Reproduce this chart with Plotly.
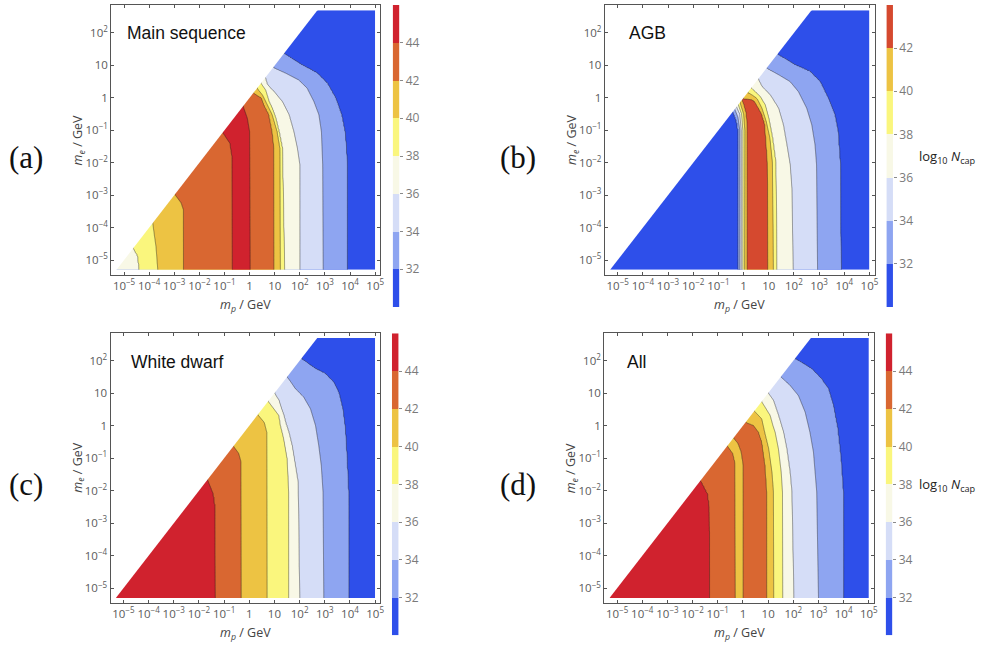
import numpy as np
import plotly.graph_objects as go

# ---------------------------------------------------------------
# Data extent (log10 of mass in GeV); only m_e <= m_p is physical
# ---------------------------------------------------------------
LOG_MP_MIN, LOG_MP_MAX = -5.3, 5.0
LOG_ME_MIN, LOG_ME_MAX = -5.3, 2.7
X_RANGE = [-5.51, 5.21]
Y_RANGE = [-5.46, 2.86]

# band colours, low -> high log10 N_cap
BLUE = "#2E4FEA"
MEDBLUE = "#8EA5F1"
LIGHTBLUE = "#D5DDF7"
CREAM = "#F8F8E6"
YELLOW = "#FAF67D"
GOLD = "#EDC343"
ORANGE = "#D96731"
RED = "#D0222E"
REDORANGE = "#D5492F"

# Each panel: contour boundaries ordered from small to large m_p.
# levels[i] is the log10 N_cap value on boundary i; knots are
# (log10 m_e, log10 m_p) points along it.  None marks a crest/trough
# lying midway between its two neighbours.

# --- Main sequence ---
ms_levels = [38, 40, 42, 44, 45, 44, 42, 40, 38, 36, 34, 32]
ms_edges = (37, 31)
ms_knots = [
    [(-5.3, -4.39), (-4.88, -4.45), (-4.63, -4.63)],
    [(-5.3, -3.66), (-4.58, -3.73), (-4.2, -3.80), (-3.86, -3.86)],
    [(-5.3, -2.64), (-3.45, -2.64), (-3.24, -2.73), (-2.98, -2.98)],
    [(-5.3, -0.68), (-1.8, -0.70), (-1.4, -0.78), (-1.07, -1.07)],
    None,
    [(-5.3, 0.02), (-1.04, 0.0), (-0.63, -0.09), (-0.30, -0.24), (-0.25, -0.25)],
    [(-5.3, 0.98), (-1.55, 0.97), (-1.04, 0.90), (-0.52, 0.77), (-0.22, 0.57),
     (-0.01, 0.48), (0.10, 0.25), (0.15, 0.15)],
    [(-5.3, 1.23), (-1.55, 1.21), (-1.04, 1.10), (-0.52, 0.90), (-0.22, 0.71),
     (0.09, 0.51), (0.24, 0.35), (0.30, 0.30)],
    [(-5.3, 1.39), (-1.55, 1.30), (-1.04, 1.17), (-0.63, 1.04), (-0.32, 0.90),
     (-0.11, 0.77), (0.24, 0.64), (0.45, 0.45)],
    [(-5.3, 2.0), (-2.06, 2.0), (-1.55, 1.90), (-1.04, 1.76), (-0.52, 1.57),
     (-0.11, 1.30), (0.19, 0.97), (0.40, 0.71), (0.62, 0.62)],
    [(-5.3, 2.93), (-2.06, 2.91), (-1.04, 2.86), (-0.52, 2.76), (-0.11, 2.56),
     (0.30, 2.29), (0.55, 1.96), (0.76, 1.43), (0.93, 0.93)],
    [(-5.3, 3.88), (-2.06, 3.88), (-1.55, 3.85), (-1.04, 3.79), (-0.52, 3.66),
     (0.0, 3.42), (0.45, 3.09), (0.76, 2.69), (1.01, 2.09), (1.36, 1.36)],
]

# --- AGB ---
agb_levels = [32, 34, 36, 38, 40, 42, 43, 42, 40, 38, 36, 34, 32]
agb_edges = (31, 31)
agb_knots = [
    [(-5.3, -0.21), (-1.0, -0.21), (-0.7, -0.28), (-0.42, -0.42)],
    [(-5.3, -0.15), (-1.0, -0.15), (-0.6, -0.22), (-0.35, -0.35)],
    [(-5.3, -0.09), (-1.0, -0.09), (-0.5, -0.15), (-0.28, -0.28)],
    [(-5.3, -0.03), (-1.0, -0.03), (-0.5, -0.08), (-0.21, -0.21)],
    [(-5.3, 0.04), (-1.0, 0.05), (-0.5, 0.0), (-0.25, -0.10), (-0.14, -0.14)],
    [(-5.3, 0.13), (-1.0, 0.14), (-0.5, 0.10), (-0.2, 0.0), (-0.07, -0.07)],
    None,
    [(-5.3, 0.97), (-2.0, 0.95), (-1.2, 0.88), (-0.8, 0.84), (-0.5, 0.72),
     (-0.3, 0.58), (-0.12, 0.44), (-0.07, 0.40), (-0.03, -0.03)],
    [(-5.3, 1.19), (-2.0, 1.15), (-1.24, 1.05), (-0.73, 0.90), (-0.32, 0.73),
     (-0.01, 0.53), (0.10, 0.32), (0.16, 0.16)],
    [(-5.3, 1.32), (-2.0, 1.28), (-1.24, 1.15), (-0.63, 1.0), (-0.22, 0.86),
     (0.04, 0.66), (0.2, 0.45), (0.30, 0.30)],
    [(-5.3, 1.97), (-2.8, 1.92), (-2.06, 1.85), (-1.45, 1.72), (-0.83, 1.58),
     (-0.32, 1.39), (0.09, 1.06), (0.35, 0.73), (0.58, 0.58)],
    [(-5.3, 2.94), (-2.06, 2.90), (-1.45, 2.84), (-0.83, 2.71), (-0.32, 2.51),
     (0.19, 2.18), (0.50, 1.85), (0.71, 1.39), (0.91, 0.91)],
    [(-5.3, 3.87), (-2.06, 3.84), (-1.04, 3.75), (-0.52, 3.62), (-0.01, 3.36),
     (0.50, 3.04), (0.81, 2.64), (1.01, 2.05), (1.34, 1.34)],
]

# --- White dwarf ---
wd_levels = [44, 42, 40, 38, 36, 34, 32]
wd_edges = (45, 31)
wd_knots = [
    [(-5.3, -1.33), (-2.5, -1.35), (-2.1, -1.42), (-1.65, -1.65)],
    [(-5.3, -0.32), (-1.1, -0.33), (-0.85, -0.42), (-0.63, -0.63)],
    [(-5.3, 0.71), (-0.2, 0.70), (0.1, 0.60), (0.34, 0.34)],
    [(-5.3, 1.57), (-2.04, 1.57), (-1.02, 1.51), (-0.40, 1.37), (0.01, 1.24),
     (0.32, 1.18), (0.52, 0.98), (0.75, 0.75)],
    [(-5.3, 2.0), (-1.74, 1.94), (-1.22, 1.83), (-0.61, 1.70), (-0.20, 1.57),
     (0.11, 1.44), (0.32, 1.37), (0.62, 1.24), (0.78, 1.18), (1.0, 1.0)],
    [(-5.3, 2.96), (-2.04, 2.93), (-1.22, 2.86), (-0.61, 2.76), (0.01, 2.63),
     (0.52, 2.43), (0.88, 2.16), (1.14, 1.83), (1.50, 1.50)],
    [(-5.3, 3.94), (-2.04, 3.94), (-1.02, 3.88), (-0.09, 3.81), (0.52, 3.71),
     (1.03, 3.55), (1.34, 3.35), (1.60, 3.02), (1.75, 2.63), (2.06, 2.06)],
]

# --- All ---
all_levels = [44, 42, 41, 42, 43, 42, 40, 38, 36, 34, 32]
all_edges = (45, 31)
all_knots = [
    [(-5.3, -1.32), (-2.5, -1.33), (-2.1, -1.40), (-1.68, -1.68)],
    [(-5.3, -0.30), (-1.16, -0.31), (-0.85, -0.40), (-0.62, -0.62)],
    None,
    [(-5.3, 0.0), (-1.2, 0.0), (-0.8, -0.08), (-0.55, -0.20), (-0.38, -0.38)],
    None,
    [(-5.3, 0.95), (-2.04, 0.95), (-1.22, 0.88), (-0.50, 0.75), (-0.20, 0.62),
     (0.01, 0.42), (0.10, 0.10)],
    [(-5.3, 1.22), (-2.04, 1.21), (-1.43, 1.15), (-0.71, 1.02), (-0.20, 0.86),
     (0.21, 0.75), (0.45, 0.45)],
    [(-5.3, 1.58), (-2.04, 1.57), (-1.43, 1.52), (-0.71, 1.41), (-0.20, 1.28),
     (0.01, 1.19), (0.32, 1.08), (0.57, 0.88), (0.74, 0.74)],
    [(-5.3, 2.02), (-2.04, 1.94), (-1.43, 1.87), (-0.71, 1.74), (-0.20, 1.61),
     (0.32, 1.41), (0.78, 1.21), (1.0, 1.0)],
    [(-5.3, 3.0), (-2.04, 2.93), (-0.81, 2.80), (-0.20, 2.66), (0.42, 2.47),
     (0.93, 2.20), (1.24, 1.87), (1.50, 1.50)],
    [(-5.3, 3.98), (-2.04, 3.98), (-1.02, 3.89), (-0.09, 3.76), (0.62, 3.59),
     (1.14, 3.39), (1.44, 3.12), (1.75, 2.73), (2.06, 2.06)],
]

X_TICKS = list(range(-5, 6))
Y_TICKS = list(range(-5, 3))


def power_label(e):
    if e == 0:
        return "1"
    if e == 1:
        return "10"
    return "10<sup>" + str(e).replace("-", "\u2212") + "</sup>"


def build_field(levels, knots, edges, gx, gy):
    """Piecewise-linear log10 N_cap on the grid, row by row."""
    z = np.empty((gy.size, gx.size))
    for j, y in enumerate(gy):
        xs = np.array([np.nan if k is None else
                       np.interp(y, [p[0] for p in k], [p[1] for p in k])
                       for k in knots])
        for i in np.where(np.isnan(xs))[0]:
            xs[i] = 0.5 * (xs[i - 1] + xs[i + 1])
        xs = np.maximum.accumulate(xs) + np.arange(xs.size) * 1e-6
        bx = np.concatenate([[-9.0], xs, [9.0]])
        bv = np.concatenate([[edges[0]], levels, [edges[1]]])
        z[j] = np.interp(gx, bx, bv)
    return np.round(z, 3)


W, H = 982, 646


def px_x(v):
    return v / W


def px_y(v):
    return 1 - v / H


grid_x = np.linspace(LOG_MP_MIN, LOG_MP_MAX, 281)
grid_y = np.linspace(LOG_ME_MIN, LOG_ME_MAX, 221)

panels = [
    dict(title="Main sequence", tag="(a)", levels=ms_levels, knots=ms_knots, edges=ms_edges,
         start=32, end=44, colors=[BLUE, MEDBLUE, LIGHTBLUE, CREAM, YELLOW, GOLD, ORANGE, RED],
         left=111.7, right=382.0, top=5.0, bottom=275.0, cbx=394.3, cbtop=5.0,
         title_xy=(126, 33), tag_xy=(26, 157), cbtitle=False),
    dict(title="AGB", tag="(b)", levels=agb_levels, knots=agb_knots, edges=agb_edges,
         start=32, end=42, colors=[BLUE, MEDBLUE, LIGHTBLUE, CREAM, YELLOW, GOLD, REDORANGE],
         left=607.3, right=878.3, top=5.0, bottom=275.0, cbx=890.0, cbtop=5.0,
         title_xy=(630, 33), tag_xy=(520, 157), cbtitle=True),
    dict(title="White dwarf", tag="(c)", levels=wd_levels, knots=wd_knots, edges=wd_edges,
         start=32, end=44, colors=[BLUE, MEDBLUE, LIGHTBLUE, CREAM, YELLOW, GOLD, ORANGE, RED],
         left=111.0, right=382.0, top=332.7, bottom=603.3, cbx=393.5, cbtop=333.3,
         title_xy=(130, 362), tag_xy=(26, 484), cbtitle=False),
    dict(title="All", tag="(d)", levels=all_levels, knots=all_knots, edges=all_edges,
         start=32, end=44, colors=[BLUE, MEDBLUE, LIGHTBLUE, CREAM, YELLOW, GOLD, ORANGE, RED],
         left=606.7, right=877.7, top=332.7, bottom=603.3, cbx=889.3, cbtop=333.3,
         title_xy=(628, 362), tag_xy=(520, 484), cbtitle=True),
]

CB_LEN = 302
CB_THICK = 6.6

fig = go.Figure()
annotations = []
AXIS_COLOR = "#555555"
TICK_FONT = dict(family="Open Sans", size=11.5, color="#5a5a5a")
CB_FONT = dict(family="Open Sans", size=12, color="#7a7a7a")

for n, p in enumerate(panels, start=1):
    sx = "" if n == 1 else str(n)
    z = build_field(p["levels"], p["knots"], p["edges"], grid_x, grid_y)
    ncol = len(p["colors"])
    cscale = [[i / (ncol - 1), c] for i, c in enumerate(p["colors"])]
    fig.add_trace(go.Contour(
        x=10 ** grid_x, y=10 ** grid_y, z=z,
        xaxis="x" + sx, yaxis="y" + sx,
        zauto=False, zmin=p["start"] - 1, zmax=p["end"] + 1,
        colorscale=cscale, showscale=False,
        contours=dict(start=p["start"], end=p["end"], size=2, coloring="fill", showlines=True),
        line=dict(color="rgba(30,30,30,0.55)", width=0.8, smoothing=0.6),
        hoverinfo="skip",
    ))
    # the unphysical region m_e > m_p is left blank
    tri_x = [-5.6, LOG_MP_MIN, LOG_ME_MAX, LOG_ME_MAX, -5.6]
    tri_y = [LOG_ME_MIN, LOG_ME_MIN, LOG_ME_MAX, 3.0, 3.0]
    fig.add_trace(go.Scatter(
        x=[10 ** v for v in tri_x], y=[10 ** v for v in tri_y],
        xaxis="x" + sx, yaxis="y" + sx, mode="lines", fill="toself",
        fillcolor="white", line=dict(width=0, color="white"),
        hoverinfo="skip", showlegend=False,
    ))

    axis_common = dict(
        type="log", showgrid=False, zeroline=False, showline=True, mirror="ticks",
        linecolor=AXIS_COLOR, linewidth=1.2, ticks="inside", ticklen=3,
        tickcolor=AXIS_COLOR, tickwidth=1, tickfont=TICK_FONT, fixedrange=True,
        tickangle=0,
    )
    fig.update_layout(**{
        "xaxis" + sx: dict(axis_common, range=X_RANGE,
                           domain=[px_x(p["left"]), px_x(p["right"])],
                           anchor="y" + sx,
                           tickvals=[10.0 ** e for e in X_TICKS],
                           ticktext=[power_label(e) for e in X_TICKS]),
        "yaxis" + sx: dict(axis_common, range=Y_RANGE,
                           domain=[px_y(p["bottom"]), px_y(p["top"])],
                           anchor="x" + sx,
                           tickvals=[10.0 ** e for e in Y_TICKS],
                           ticktext=[power_label(e) for e in Y_TICKS]),
    })

    # colour key: one cell per band, from one step below the first
    # contour to one step above the last
    cb = str(n + 4)
    lo, hi = p["start"] - 2, p["end"] + 2
    mids = list(range(lo + 1, hi, 2))
    fig.add_trace(go.Heatmap(
        x=[0], y=mids, z=[[m] for m in mids],
        xaxis="x" + cb, yaxis="y" + cb,
        colorscale=cscale, zmin=p["start"] - 1, zmax=p["end"] + 1,
        showscale=False, hoverinfo="skip",
    ))
    fig.update_layout(**{
        "xaxis" + cb: dict(domain=[px_x(p["cbx"]), px_x(p["cbx"] + CB_THICK)],
                           range=[-0.5, 0.5], visible=False, anchor="y" + cb,
                           fixedrange=True),
        "yaxis" + cb: dict(domain=[px_y(p["cbtop"] + CB_LEN), px_y(p["cbtop"])],
                           range=[lo, hi], anchor="x" + cb, side="right",
                           showgrid=False, zeroline=False, showline=False,
                           ticks="outside", ticklen=3, tickcolor="#8a8a8a",
                           tickvals=list(range(p["start"], p["end"] + 1, 2)),
                           tickfont=CB_FONT, fixedrange=True),
    })

    cx = 0.5 * (p["left"] + p["right"])
    cy = 0.5 * (p["top"] + p["bottom"])
    annotations += [
        dict(text=p["title"], x=px_x(p["title_xy"][0]), y=px_y(p["title_xy"][1]),
             xanchor="left", yanchor="middle",
             font=dict(family="Liberation Sans", size=17.5, color="#111111")),
        dict(text=p["tag"], x=px_x(p["tag_xy"][0]), y=px_y(p["tag_xy"][1]),
             xanchor="center", yanchor="middle",
             font=dict(family="Liberation Serif", size=31, color="#111111")),
        dict(text="<i>m</i><sub><i>p</i></sub> / GeV", x=px_x(cx), y=px_y(p["bottom"] + 30),
             xanchor="center", yanchor="middle",
             font=dict(family="Open Sans", size=12.5, color="#444444")),
        dict(text="<i>m</i><sub><i>e</i></sub> / GeV", x=px_x(p["left"] - 33), y=px_y(cy),
             xanchor="center", yanchor="middle", textangle=-90,
             font=dict(family="Open Sans", size=12.5, color="#444444")),
    ]
    if p["cbtitle"]:
        annotations.append(dict(
            text="log<sub>10</sub> <i>N</i><sub>cap</sub>",
            x=px_x(p["cbx"] + 31), y=px_y(p["cbtop"] + 152),
            xanchor="left", yanchor="middle",
            font=dict(family="Open Sans", size=13, color="#222222")))

for a in annotations:
    a.update(xref="paper", yref="paper", showarrow=False)

fig.update_layout(
    width=W, height=H, margin=dict(l=0, r=0, t=0, b=0),
    paper_bgcolor="white", plot_bgcolor="white",
    showlegend=False, annotations=annotations,
)

fig.write_html("out.html", include_plotlyjs=True, full_html=True,
               config={"displayModeBar": False})
